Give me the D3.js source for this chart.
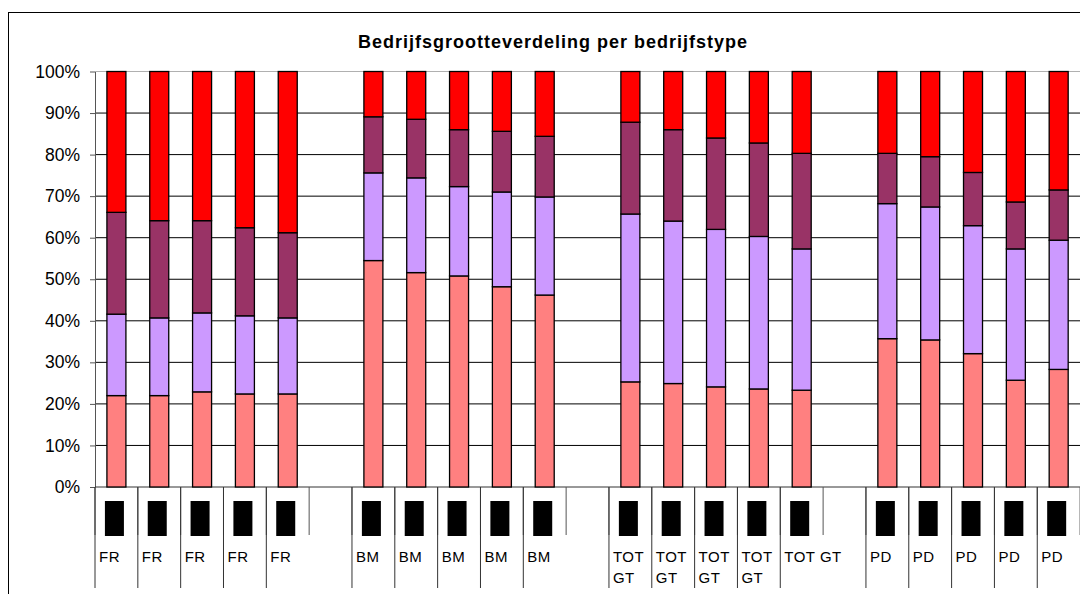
<!DOCTYPE html>
<html>
<head>
<meta charset="utf-8">
<script src="https://cdn.jsdelivr.net/npm/d3@7"></script>
<style>
  body { margin: 0; background: #fff; }
  svg { display: block; font-family: "Liberation Sans", Arial, sans-serif; }
</style>
</head>
<body>
<div id="chart"></div>
<script>
// category labels (second level), "" = empty spacer column
const labels = ["FR","FR","FR","FR","FR","",
                "BM","BM","BM","BM","BM","",
                "TOT GT","TOT GT","TOT GT","TOT GT","TOT GT","",
                "PD","PD","PD","PD","PD"];

// share per size class (%), bottom to top; null for spacer columns
const klasse1 = [22.0,22.0,22.9,22.4,22.4,null, 54.5,51.6,50.8,48.2,46.2,null,
                 25.3,24.9,24.1,23.6,23.3,null, 35.7,35.4,32.1,25.7,28.3];
const klasse2 = [19.6,18.7,19.0,18.8,18.3,null, 21.1,22.8,21.5,22.8,23.6,null,
                 40.4,39.1,37.9,36.7,34.0,null, 32.5,32.0,30.8,31.6,31.1];
const klasse3 = [24.5,23.4,22.2,21.2,20.5,null, 13.5,14.1,13.7,14.6,14.6,null,
                 22.1,22.0,22.0,22.5,23.0,null, 12.1,12.1,12.8,11.3,12.1];
const klasse4 = [33.9,35.9,35.9,37.6,38.8,null, 10.9,11.5,14.0,14.4,15.6,null,
                 12.2,14.0,16.0,17.2,19.7,null, 19.7,20.5,24.3,31.4,28.5];

const yTicks = [0,10,20,30,40,50,60,70,80,90,100];

const keys = ["klasse1","klasse2","klasse3","klasse4"];
const colors = {klasse1: "#FF8080", klasse2: "#CC99FF", klasse3: "#993366", klasse4: "#FF0000"};

const width = 1080, height = 594;
const plot = {left: 95, top: 71.5, bottom: 487, colW: 42.83};

const svg = d3.select("#chart").append("svg")
    .attr("width", width)
    .attr("height", height);

// outer chart border (runs off the right and bottom edge)
svg.append("rect")
    .attr("x", 8.5).attr("y", 12.5)
    .attr("width", 1200).attr("height", 700)
    .attr("fill", "none").attr("stroke", "#000");

svg.append("text")
    .attr("x", 553).attr("y", 48)
    .attr("text-anchor", "middle")
    .style("font-size", "18px")
    .style("font-weight", "bold")
    .style("letter-spacing", "1px")
    .text("Bedrijfsgrootteverdeling per bedrijfstype");

const rows = labels.map((l, i) => ({
  idx: i, label: l,
  klasse1: klasse1[i] || 0, klasse2: klasse2[i] || 0,
  klasse3: klasse3[i] || 0, klasse4: klasse4[i] || 0
}));

const x = d3.scaleBand()
    .domain(d3.range(labels.length))
    .range([plot.left, plot.left + labels.length * plot.colW])
    .padding(0);

const y = d3.scaleLinear()
    .domain([0, 100])
    .range([plot.bottom, plot.top]);

// gridlines
svg.append("g")
  .selectAll("line")
  .data(yTicks.slice(1))
  .enter().append("line")
    .attr("x1", plot.left).attr("x2", width + 20)
    .attr("y1", d => y(d)).attr("y2", d => y(d))
    .attr("stroke", d => d === 100 ? "#b0b0b0" : "#000")
    .attr("stroke-width", 1);

// y axis
const yAxis = svg.append("g")
    .attr("transform", `translate(${plot.left},0)`)
    .call(d3.axisLeft(y).tickValues(yTicks).tickFormat(d => d + "%")
      .tickSize(5).tickSizeOuter(0).tickPadding(10));
yAxis.selectAll("text").style("font-size", "17.5px")
    .style("font-family", "Liberation Sans, Arial, sans-serif").attr("fill", "#000");
yAxis.select(".domain").attr("stroke", "#555");
yAxis.selectAll(".tick line").attr("stroke", "#555");

// x axis baseline
svg.append("line")
    .attr("x1", plot.left).attr("x2", width + 20)
    .attr("y1", y(0)).attr("y2", y(0))
    .attr("stroke", "#333");

// stacked bars
const stacked = d3.stack().keys(keys)(rows);
const barW = 19;

svg.append("g")
  .selectAll("g")
  .data(stacked)
  .enter().append("g")
    .attr("fill", d => colors[d.key])
  .selectAll("rect")
  .data(d => d.filter(s => s[1] - s[0] > 0))
  .enter().append("rect")
    .attr("x", d => x(d.data.idx) + x.bandwidth() / 2 - barW / 2)
    .attr("y", d => y(d[1]))
    .attr("width", barW)
    .attr("height", d => y(d[0]) - y(d[1]))
    .attr("stroke", "#000")
    .attr("stroke-width", 1.3);

// first level: ticks at every column and the black glyph boxes
const axisG = svg.append("g");
axisG.selectAll(".tick1")
  .data(d3.range(labels.length + 1))
  .enter().append("line")
    .attr("x1", i => plot.left + i * plot.colW)
    .attr("x2", i => plot.left + i * plot.colW)
    .attr("y1", y(0)).attr("y2", 535)
    .attr("stroke", "#555");

axisG.selectAll(".box")
  .data(rows.filter(r => r.label !== ""))
  .enter().append("rect")
    .attr("x", r => x(r.idx) + x.bandwidth() / 2 - 11.5)
    .attr("y", 501)
    .attr("width", 19).attr("height", 35)
    .attr("fill", "#000");

// second level: label groups, a label spans until the next labelled column
const starts = rows.filter(r => r.label !== "").map(r => r.idx);
const spans = starts.map((s, k) => ({
  label: labels[s],
  x0: x(s),
  x1: k < starts.length - 1 ? x(starts[k + 1]) : width + 20
}));

axisG.selectAll(".sep")
  .data(spans)
  .enter().append("line")
    .attr("x1", d => d.x0).attr("x2", d => d.x0)
    .attr("y1", y(0)).attr("y2", 588)
    .attr("stroke", "#333");

const lab = axisG.selectAll(".lab")
  .data(spans)
  .enter().append("text")
    .attr("x", d => d.x0 + 4)
    .attr("y", 562)
    .style("font-size", "15px")
    .style("letter-spacing", "0.5px")
    .attr("fill", "#000");

lab.each(function(d) {
  const t = d3.select(this);
  t.text(d.label);
  if (this.getComputedTextLength() > d.x1 - d.x0 - 6) {
    const words = d.label.split(" ");
    t.text(null);
    words.forEach((w, i) => {
      t.append("tspan").attr("x", d.x0 + 4).attr("dy", i === 0 ? 0 : 21).text(w);
    });
  }
});
</script>
</body>
</html>
